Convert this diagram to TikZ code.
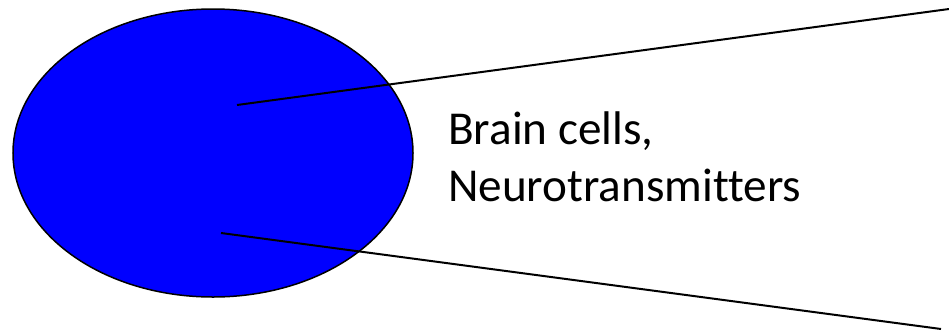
\documentclass[tikz,border=0pt]{standalone}
\usepackage{fontspec}
\setmainfont[Ligatures=NoCommon]{Carlito}
\usetikzlibrary{shapes.geometric}
\definecolor{cellblue}{RGB}{0,0,255}
\tikzset{
  cell/.style={ellipse, draw=black, line width=1.5bp, fill=cellblue, minimum width=400bp, minimum height=288bp, inner sep=0pt},
  pointer/.style={draw=black, line width=2bp},
  label/.style={anchor=base west, inner sep=0pt, font=\fontsize{47.2bp}{57bp}\selectfont}
}
\begin{document}
\begin{tikzpicture}[x=1bp,y=-1bp]
\useasboundingbox (0,0) rectangle (949,332);
\node[cell] (brain) at (213,153) {};
\coordinate (p1) at (237,105);
\coordinate (p2) at (221,233);
\coordinate (e1) at (949,9);
\coordinate (e2) at (941,329);
\draw[pointer] (p1) -- (e1);
\draw[pointer] (p2) -- (e2);
\node[label] (t1) at (448,144) {Brain cells,};
\node[label] (t2) at (448,201) {Neurotransmitters};
\end{tikzpicture}
\end{document}
